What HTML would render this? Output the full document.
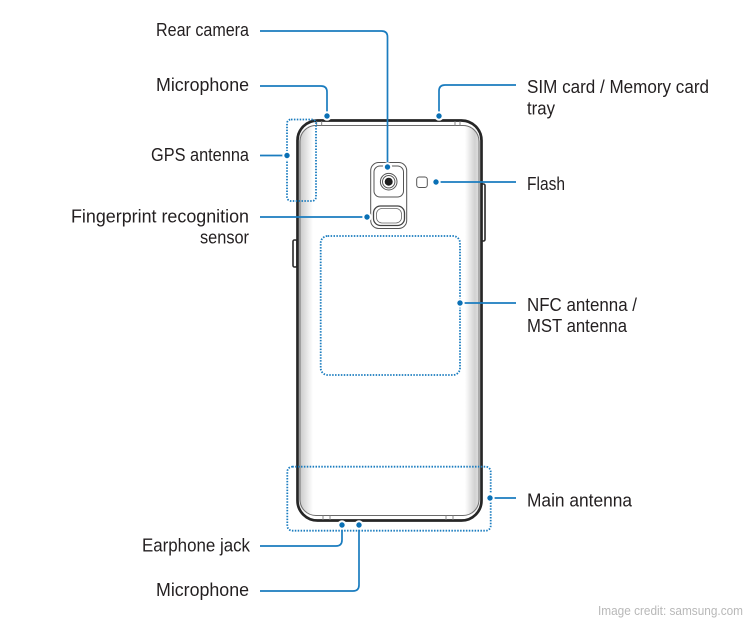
<!DOCTYPE html>
<html>
<head>
<meta charset="utf-8">
<style>
  html,body{margin:0;padding:0;background:#fff;}
  body{width:750px;height:625px;overflow:hidden;}
  svg{display:block;}
  .lbl{font-family:"Liberation Sans",Arial,sans-serif;font-size:18px;fill:#231f20;}
  .cred{font-family:"Liberation Sans",Arial,sans-serif;font-size:12.5px;fill:#b8b8b8;}
  .lead{fill:none;stroke:#1a7cbf;stroke-width:1.7;}
  .dotbox{fill:none;stroke:#1a7cbf;stroke-width:1.8;stroke-dasharray:1.5 1.4;}
  .dot{fill:#0a70b5;stroke:#fff;stroke-width:2;}
</style>
</head>
<body>
<svg width="750" height="625" viewBox="0 0 750 625" xmlns="http://www.w3.org/2000/svg">
  <defs>
    <linearGradient id="gl" x1="0" x2="1" y1="0" y2="0">
      <stop offset="0" stop-color="#c6c6c6"/>
      <stop offset="1" stop-color="#ffffff"/>
    </linearGradient>
    <linearGradient id="gr" x1="0" x2="1" y1="0" y2="0">
      <stop offset="0" stop-color="#ffffff"/>
      <stop offset="0.65" stop-color="#d2d2d2"/>
      <stop offset="1" stop-color="#e2e2e2"/>
    </linearGradient>
    <clipPath id="pc">
      <rect x="299" y="125" width="181" height="391" rx="16"/>
    </clipPath>
  </defs>

  <!-- side buttons -->
  <rect x="481" y="184" width="4" height="57" rx="1.5" fill="#fff" stroke="#2a2a2a" stroke-width="1.6"/>
  <rect x="293" y="240" width="4" height="27" rx="1.5" fill="#fff" stroke="#2a2a2a" stroke-width="1.6"/>

  <!-- phone body -->
  <rect x="297.5" y="120.5" width="184" height="400" rx="20" fill="#fff"/>
  <g clip-path="url(#pc)">
    <rect x="299" y="125" width="14" height="391" fill="url(#gl)"/>
    <rect x="465" y="125" width="15" height="391" fill="url(#gr)"/>
  </g>
  <rect x="300" y="125.5" width="179" height="390" rx="16" fill="none" stroke="#6a6a6a" stroke-width="0.9"/>
  <rect x="297.5" y="120.5" width="184" height="400" rx="20" fill="none" stroke="#262626" stroke-width="2.7"/>
  <!-- top/bottom slits -->
  <g stroke="#777" stroke-width="0.9">
    <line x1="316.7" y1="121" x2="316.7" y2="126"/>
    <line x1="321.7" y1="121" x2="321.7" y2="126"/>
    <line x1="455" y1="121" x2="455" y2="126"/>
    <line x1="460" y1="121" x2="460" y2="126"/>
    <line x1="323" y1="515" x2="323" y2="520"/>
    <line x1="330" y1="515" x2="330" y2="520"/>
    <line x1="446" y1="515" x2="446" y2="520"/>
    <line x1="453" y1="515" x2="453" y2="520"/>
  </g>

  <!-- camera module -->
  <rect x="370.7" y="162.5" width="36" height="66" rx="8" fill="#fff" stroke="#555" stroke-width="1"/>
  <rect x="374" y="166" width="29.5" height="31" rx="6" fill="none" stroke="#555" stroke-width="1"/>
  <circle cx="388.7" cy="181.7" r="8.3" fill="none" stroke="#555" stroke-width="1"/>
  <circle cx="388.7" cy="181.7" r="6.2" fill="none" stroke="#555" stroke-width="1"/>
  <circle cx="388.7" cy="181.7" r="4" fill="#1e1e1e"/>
  <rect x="373.5" y="206" width="31" height="19.5" rx="7" fill="none" stroke="#444" stroke-width="1.3"/>
  <rect x="376.5" y="208.5" width="25" height="14.5" rx="5.5" fill="none" stroke="#666" stroke-width="0.8"/>
  <!-- flash -->
  <rect x="416.7" y="177" width="10.6" height="10.5" rx="2.5" fill="#fff" stroke="#555" stroke-width="1"/>

  <!-- dotted antenna boxes -->
  <rect class="dotbox" x="287" y="119.5" width="29" height="81.5" rx="4"/>
  <rect class="dotbox" x="320.7" y="236" width="139.3" height="139" rx="7"/>
  <rect class="dotbox" x="287.3" y="466.7" width="203.4" height="64" rx="5"/>

  <!-- leader lines -->
  <path class="lead" d="M260,31 H381.5 Q387.5,31 387.5,37 V167"/>
  <path class="lead" d="M260,86 H321 Q327,86 327,92 V116"/>
  <path class="lead" d="M260,155.5 H287"/>
  <path class="lead" d="M260,217 H367"/>
  <path class="lead" d="M516,85 H445 Q439,85 439,91 V116"/>
  <path class="lead" d="M436,182 H516"/>
  <path class="lead" d="M460,303 H516"/>
  <path class="lead" d="M490,498 H516"/>
  <path class="lead" d="M260,546 H336 Q342,546 342,540 V525"/>
  <path class="lead" d="M260,591 H353 Q359,591 359,585 V525"/>

  <!-- dots -->
  <circle class="dot" cx="387.5" cy="167" r="3.7"/>
  <circle class="dot" cx="327" cy="116" r="3.7"/>
  <circle class="dot" cx="287" cy="155.5" r="3.7"/>
  <circle class="dot" cx="367" cy="217" r="3.7"/>
  <circle class="dot" cx="439" cy="116" r="3.7"/>
  <circle class="dot" cx="436" cy="182" r="3.7"/>
  <circle class="dot" cx="460" cy="303" r="3.7"/>
  <circle class="dot" cx="490" cy="498" r="3.7"/>
  <circle class="dot" cx="342" cy="525" r="3.7"/>
  <circle class="dot" cx="359" cy="525" r="3.7"/>

  <!-- left labels -->
  <text class="lbl" x="156" y="36" textLength="93" lengthAdjust="spacingAndGlyphs">Rear camera</text>
  <text class="lbl" x="156" y="91" textLength="93" lengthAdjust="spacingAndGlyphs">Microphone</text>
  <text class="lbl" x="151" y="161" textLength="98" lengthAdjust="spacingAndGlyphs">GPS antenna</text>
  <text class="lbl" x="71" y="222.5" textLength="178" lengthAdjust="spacingAndGlyphs">Fingerprint recognition</text>
  <text class="lbl" x="200" y="243.5" textLength="49" lengthAdjust="spacingAndGlyphs">sensor</text>
  <text class="lbl" x="142" y="551.5" textLength="108" lengthAdjust="spacingAndGlyphs">Earphone jack</text>
  <text class="lbl" x="156" y="596" textLength="93" lengthAdjust="spacingAndGlyphs">Microphone</text>

  <!-- right labels -->
  <text class="lbl" x="527" y="93" textLength="182" lengthAdjust="spacingAndGlyphs">SIM card / Memory card</text>
  <text class="lbl" x="527" y="114.5" textLength="28" lengthAdjust="spacingAndGlyphs">tray</text>
  <text class="lbl" x="527" y="190" textLength="38" lengthAdjust="spacingAndGlyphs">Flash</text>
  <text class="lbl" x="527" y="311" textLength="110" lengthAdjust="spacingAndGlyphs">NFC antenna /</text>
  <text class="lbl" x="527" y="332" textLength="100" lengthAdjust="spacingAndGlyphs">MST antenna</text>
  <text class="lbl" x="527" y="506.5" textLength="105" lengthAdjust="spacingAndGlyphs">Main antenna</text>

  <!-- credit -->
  <text class="cred" x="598" y="615" textLength="145" lengthAdjust="spacingAndGlyphs">Image credit: samsung.com</text>
</svg>
</body>
</html>
